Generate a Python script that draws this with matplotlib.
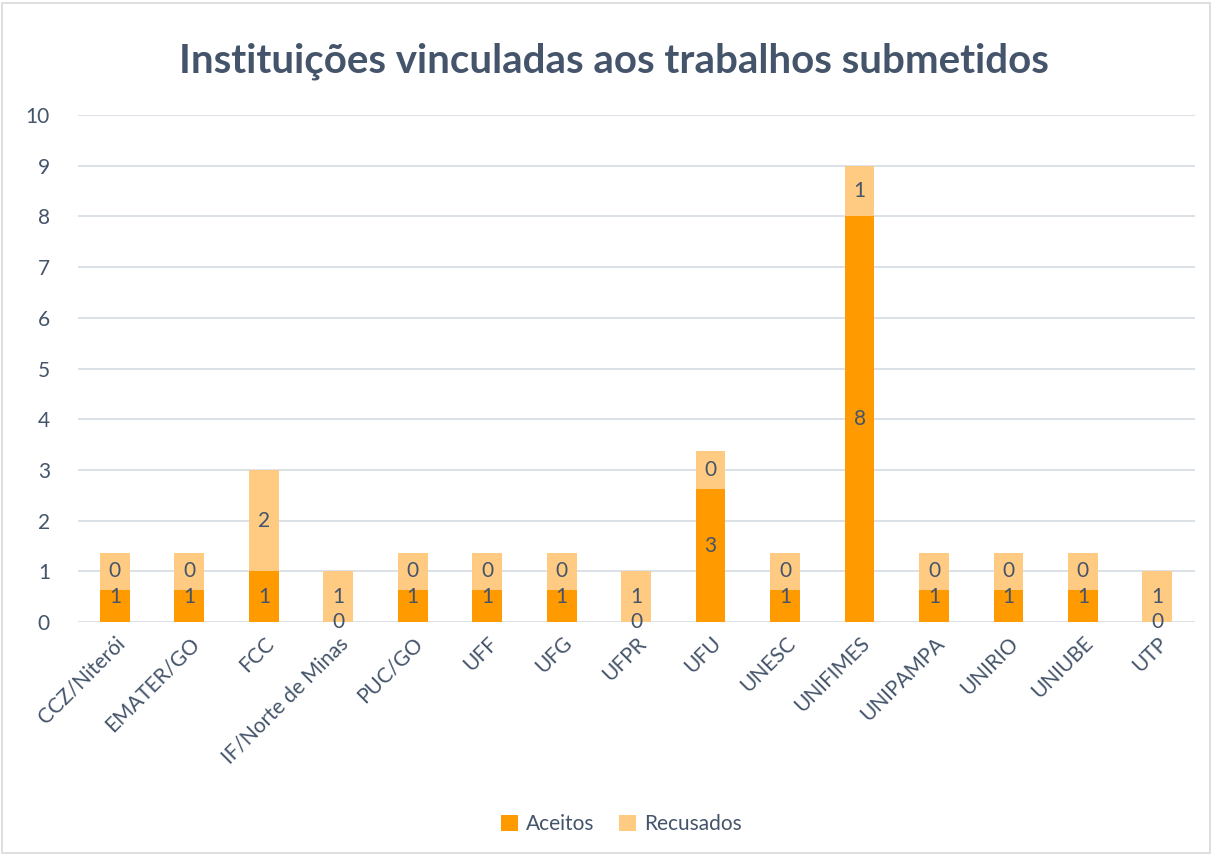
import matplotlib
matplotlib.use("Agg")
import matplotlib.pyplot as plt
import numpy as np

plt.rcParams['font.family'] = ['Lato', 'DejaVu Sans']

instituicoes = ["CCZ/Niterói", "EMATER/GO", "FCC", "IF/Norte de Minas", "PUC/GO", "UFF",
                "UFG", "UFPR", "UFU", "UNESC", "UNIFIMES", "UNIPAMPA", "UNIRIO", "UNIUBE", "UTP"]
aceitos = [1, 1, 1, 0, 1, 1, 1, 0, 3, 1, 8, 1, 1, 1, 0]
recusados = [0, 0, 2, 1, 0, 0, 0, 1, 0, 0, 1, 0, 0, 0, 1]

cor_aceitos = "#FF9A00"
cor_recusados = "#FFCB82"
cor_texto = "#44546A"

fig = plt.figure(figsize=(12.14, 8.55), dpi=100)
ax = fig.add_axes([0.064, 0.2725, 0.92, 0.593])

x = np.arange(len(instituicoes))
larg = 0.4
ac = np.array(aceitos)
rc = np.array(recusados)

ax.bar(x, ac, larg, color=cor_aceitos, label="Aceitos", zorder=2)
ax.bar(x, rc, larg, bottom=ac, color=cor_recusados, label="Recusados", zorder=2)

# rótulos dos aceitos (sem caixa)
for i in range(len(x)):
    ax.text(x[i], ac[i] / 2, str(ac[i]), ha="center", va="center",
            fontsize=15, color=cor_texto, zorder=4)

# rótulos dos recusados: zeros ganham caixa na cor da série, como no Excel
caixa = 0.74
zeros = rc == 0
ax.bar(x[zeros], np.full(zeros.sum(), caixa), larg, bottom=ac[zeros] - caixa / 2,
       color=cor_recusados, zorder=3)
for i in range(len(x)):
    ax.text(x[i], ac[i] + rc[i] / 2, str(rc[i]), ha="center", va="center",
            fontsize=15, color=cor_texto, zorder=4)

ax.set_xlim(-0.5, len(x) - 0.5)
ax.set_ylim(0, 10)
ax.set_yticks(range(0, 11))
ax.yaxis.grid(True, color="#D9DEE6", linewidth=1.3, zorder=0)
ax.set_axisbelow(True)
for s in ax.spines.values():
    s.set_visible(False)
ax.tick_params(axis="both", length=0, labelsize=15, labelcolor=cor_texto)
ax.tick_params(axis="y", pad=20)
ax.set_xticks(x)
ax.set_xticklabels(instituicoes, rotation=45, ha="right", rotation_mode="anchor")
ax.tick_params(axis="x", pad=8)

fig.text(0.5055, 0.928, "Instituições vinculadas aos trabalhos submetidos", ha="center",
         va="center", fontsize=29, fontweight="bold", color=cor_texto)

fig.legend(loc="center", bbox_to_anchor=(0.512, 0.036), ncol=2, frameon=False,
           fontsize=15, labelcolor=cor_texto, handlelength=0.8, handleheight=0.8,
           handletextpad=0.4, columnspacing=1.2)

fig.patches.append(plt.Rectangle((0.002, 0.002), 0.995, 0.995, transform=fig.transFigure,
                                 fill=False, edgecolor="#D9D9D9", linewidth=1.2))

fig.savefig("out.png", dpi=100)
